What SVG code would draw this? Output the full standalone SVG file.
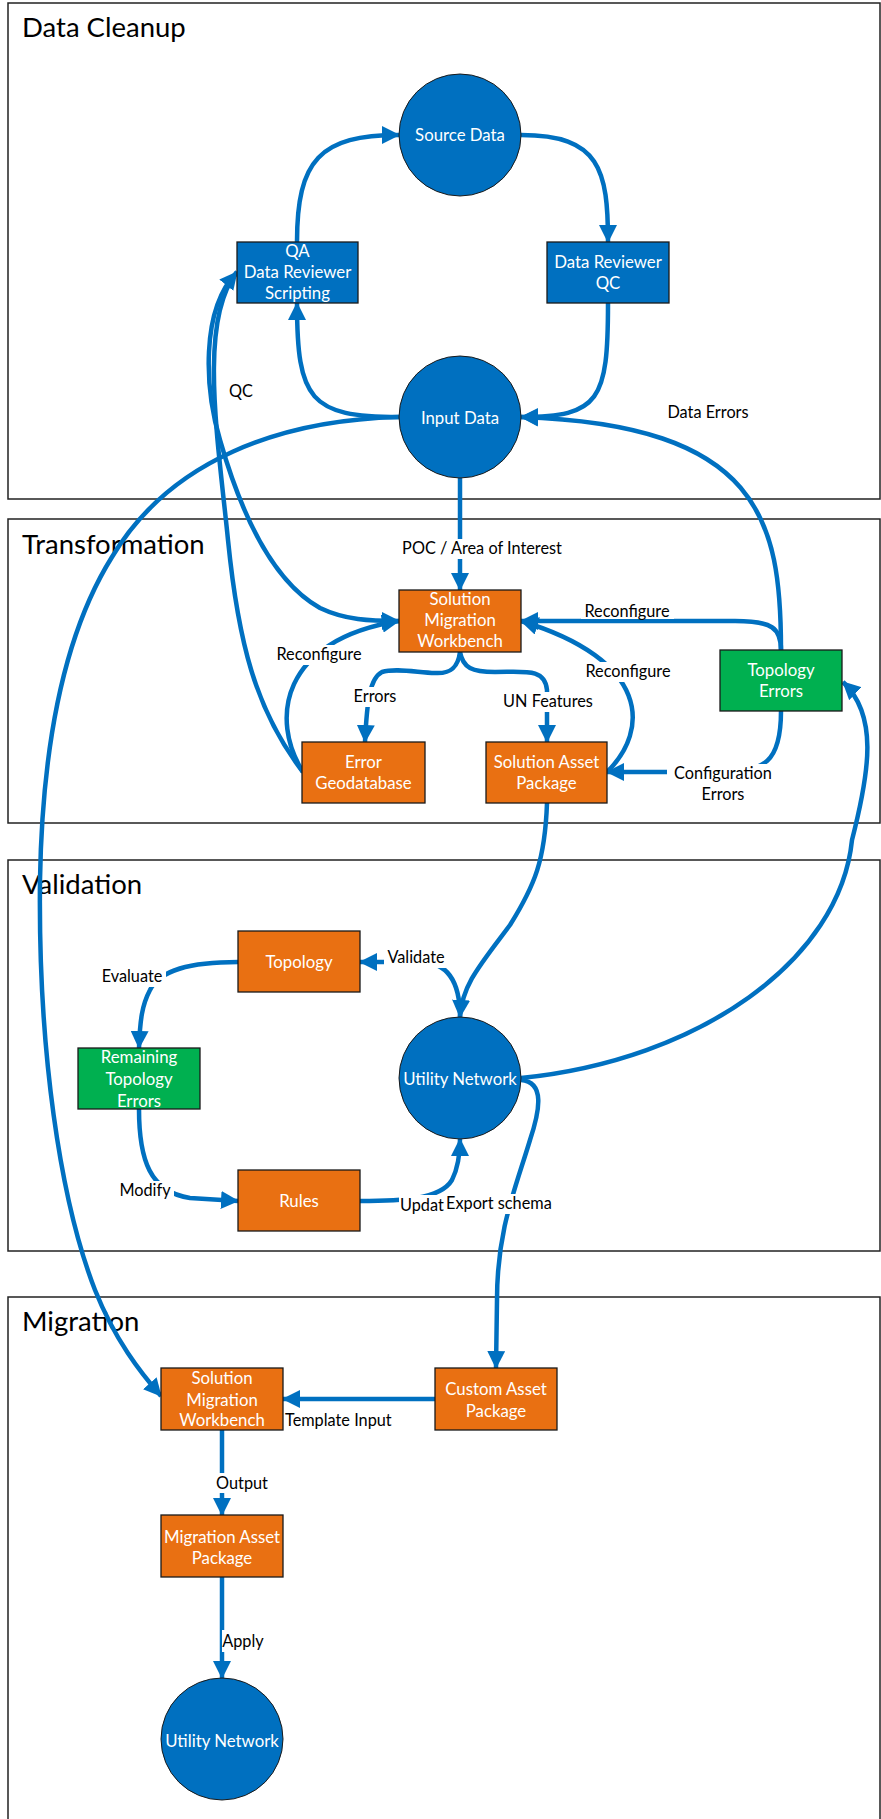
<svg xmlns="http://www.w3.org/2000/svg" width="881" height="1819" viewBox="0 0 881 1819">
<defs>
<marker id="ah" markerUnits="userSpaceOnUse" markerWidth="18" markerHeight="18" refX="17" refY="9" orient="auto" viewBox="0 0 18 18">
<path d="M0,0 L18,9 L0,18 z" fill="#0070C0"/>
</marker>
<style>
.frame{fill:#fff;stroke:#222;stroke-width:1.5}
.title{font-family:Lato,"Open Sans","Liberation Sans",sans-serif;font-size:27.5px;fill:#000}
.blue{fill:#0070C0;stroke:#1a1a1a;stroke-width:1}
.orange{fill:#E97012;stroke:#1a1a1a;stroke-width:1.3}
.green{fill:#00B050;stroke:#1a1a1a;stroke-width:1.3}
.bbox{fill:#0070C0;stroke:#1a1a1a;stroke-width:1.3}
.nt{font-family:Lato,"Open Sans","Liberation Sans",sans-serif;font-size:16.8px;fill:#fff;text-anchor:middle}
.lt{font-family:Lato,"Open Sans","Liberation Sans",sans-serif;font-size:16.3px;fill:#000;text-anchor:middle}
.ls{font-family:Lato,"Open Sans","Liberation Sans",sans-serif;font-size:16.3px;fill:#000}
.c{fill:none;stroke:#0070C0;stroke-width:4.5}
.a{marker-end:url(#ah)}
.bg{fill:#fff}
</style>
</defs>
<rect width="881" height="1819" fill="#fff"/>
<g id="frames">
<rect class="frame" x="8" y="3" width="872" height="496"/>
<rect class="frame" x="8" y="519" width="872" height="304"/>
<rect class="frame" x="8" y="860" width="872" height="391"/>
<rect class="frame" x="8" y="1297" width="872" height="540"/>
<text class="title" x="22" y="37">Data Cleanup</text>
<text class="title" x="22" y="554">Transformation</text>
<text class="title" x="22" y="894">Validation</text>
<text class="title" x="22" y="1331">Migration</text>
</g>
<g id="connectors">
<path class="c a" d="M297,242 C297,160 320,135 399,135"/>
<path class="c a" d="M521,135 C600,135 608,170 608,242"/>
<path class="c a" d="M608,303 C608,400 600,417 521,417"/>
<path class="c a" d="M399,417 C310,417 297,400 297,303"/>
<path class="c a" d="M781,650 C781,520 760,425 521,417"/>
<path class="c a" d="M781,650 C781,628 772,621 735,621 L521,621"/>
<path class="c a" d="M460,478 L460,590"/>
<path class="c a" d="M607,772 C650,730 650,660 521,621"/>
<path class="c a" d="M781,711 C781,762 765,772 720,772 L607,772"/>
<path class="c a" d="M460,652 C458,668 450,674 435,673 C415,672 395,668 382,672 C370,678 367,700 365,742"/>
<path class="c a" d="M460,652 C463,668 472,672 495,672 C525,672 545,668 547,690 L547,742"/>
<path class="c a" d="M303,772 C270,720 280,640 399,621"/>
<path class="c a" d="M303,772 C255,710 238,640 228,540 C218,440 198,320 237,272"/>
<path class="c a" d="M237,272 C200,310 205,390 220,440 C240,510 270,580 320,608 C345,620 370,621 399,621"/>
<path class="c a" d="M399,417 C280,420 170,460 112,557 C60,640 42,760 40,880 C38,1050 60,1200 95,1290 C115,1340 140,1372 161,1396"/>
<path class="c a" d="M460,1017 C460,985 450,962 420,962 L360,962"/>
<path class="c a" d="M547,803 C545,860 535,885 510,925 C480,965 462,985 460,1017"/>
<path class="c a" d="M238,962 C190,962 160,970 150,990 C142,1005 140,1020 139,1048"/>
<path class="c a" d="M139,1109 C139,1160 150,1192 190,1198 L238,1201"/>
<path class="c a" d="M360,1201 C400,1201 440,1200 452,1180 C458,1168 460,1155 460,1139"/>
<path class="c a" d="M521,1080 C545,1082 540,1110 530,1140 C515,1190 497,1230 497,1300 L496,1368"/>
<path class="c a" d="M521,1078 C700,1060 840,960 852,840 C870,770 878,715 843,682"/>
<path class="c a" d="M435,1399 L283,1399"/>
<path class="c a" d="M222,1430 L222,1515"/>
<path class="c a" d="M222,1577 L222,1678"/>
</g>
<g id="labels">
<rect class="bg" x="399" y="539" width="167" height="20"/>
<text class="lt" x="482" y="554">POC / Area of Interest</text>
<rect class="bg" x="581" y="602" width="93" height="17"/>
<text class="lt" x="627" y="617">Reconfigure</text>
<rect class="bg" x="272" y="645" width="94" height="20"/>
<text class="lt" x="319" y="660">Reconfigure</text>
<rect class="bg" x="581" y="662" width="94" height="20"/>
<text class="lt" x="628" y="677">Reconfigure</text>
<rect class="bg" x="349" y="687" width="52" height="20"/>
<text class="lt" x="375" y="702">Errors</text>
<rect class="bg" x="499" y="692" width="98" height="20"/>
<text class="lt" x="548" y="707">UN Features</text>
<rect class="bg" x="667" y="764" width="112" height="42"/>
<text class="lt" x="723" y="779">Configuration</text>
<text class="lt" x="723" y="800">Errors</text>
<text class="lt" x="708" y="418">Data Errors</text>
<text class="lt" x="241" y="397">QC</text>
<rect class="bg" x="98" y="967" width="68" height="20"/>
<text class="lt" x="132" y="982">Evaluate</text>
<rect class="bg" x="384" y="948" width="65" height="20"/>
<text class="lt" x="416" y="963">Validate</text>
<rect class="bg" x="115" y="1181" width="59" height="20"/>
<text class="lt" x="145" y="1196">Modify</text>
<rect class="bg" x="399" y="1195" width="47" height="21"/>
<text class="ls" x="400" y="1211">Updat</text>
<rect class="bg" x="445" y="1194" width="113" height="20"/>
<text class="ls" x="446" y="1209">Export schema</text>
<text class="ls" x="285" y="1426">Template Input</text>
<rect class="bg" x="213" y="1473" width="58" height="20"/>
<text class="lt" x="242" y="1489">Output</text>
<rect class="bg" x="222" y="1630" width="45" height="22"/>
<text class="lt" x="243" y="1647">Apply</text>
</g>
<g id="n-source"><circle class="blue" cx="460" cy="135" r="61"/><text class="nt" x="460" y="141">Source Data</text></g>
<g id="n-qa"><rect class="bbox" x="237" y="242" width="121" height="61"/><text class="nt" x="297.5" y="257">QA</text><text class="nt" x="297.5" y="278">Data Reviewer</text><text class="nt" x="297.5" y="299">Scripting</text></g>
<g id="n-drqc"><rect class="bbox" x="547" y="242" width="122" height="61"/><text class="nt" x="608" y="268">Data Reviewer</text><text class="nt" x="608" y="289">QC</text></g>
<g id="n-input"><circle class="blue" cx="460" cy="417" r="61"/><text class="nt" x="460" y="424">Input Data</text></g>
<g id="n-smw"><rect class="orange" x="399" y="590" width="122" height="62"/><text class="nt" x="460" y="605">Solution</text><text class="nt" x="460" y="626">Migration</text><text class="nt" x="460" y="647">Workbench</text></g>
<g id="n-toperr"><rect class="green" x="720" y="650" width="122" height="61"/><text class="nt" x="781" y="676">Topology</text><text class="nt" x="781" y="697">Errors</text></g>
<g id="n-errgdb"><rect class="orange" x="302" y="742" width="123" height="61"/><text class="nt" x="363.5" y="768">Error</text><text class="nt" x="363.5" y="789">Geodatabase</text></g>
<g id="n-sap"><rect class="orange" x="486" y="742" width="121" height="61"/><text class="nt" x="546.5" y="768">Solution Asset</text><text class="nt" x="546.5" y="789">Package</text></g>
<g id="n-topology"><rect class="orange" x="238" y="931" width="122" height="61"/><text class="nt" x="299" y="968">Topology</text></g>
<g id="n-rte"><rect class="green" x="78" y="1048" width="122" height="61"/><text class="nt" x="139" y="1063">Remaining</text><text class="nt" x="139" y="1085">Topology</text><text class="nt" x="139" y="1107">Errors</text></g>
<g id="n-un"><circle class="blue" cx="460" cy="1078" r="61"/><text class="nt" x="460" y="1085">Utility Network</text></g>
<g id="n-rules"><rect class="orange" x="238" y="1170" width="122" height="61"/><text class="nt" x="299" y="1207">Rules</text></g>
<g id="n-smw2"><rect class="orange" x="161" y="1368" width="122" height="62"/><text class="nt" x="222" y="1384">Solution</text><text class="nt" x="222" y="1406">Migration</text><text class="nt" x="222" y="1426">Workbench</text></g>
<g id="n-cap"><rect class="orange" x="435" y="1368" width="122" height="62"/><text class="nt" x="496" y="1395">Custom Asset</text><text class="nt" x="496" y="1417">Package</text></g>
<g id="n-map"><rect class="orange" x="161" y="1515" width="122" height="62"/><text class="nt" x="222" y="1543">Migration Asset</text><text class="nt" x="222" y="1564">Package</text></g>
<g id="n-un2"><circle class="blue" cx="222" cy="1739" r="61"/><text class="nt" x="222" y="1747">Utility Network</text></g>
</svg>
